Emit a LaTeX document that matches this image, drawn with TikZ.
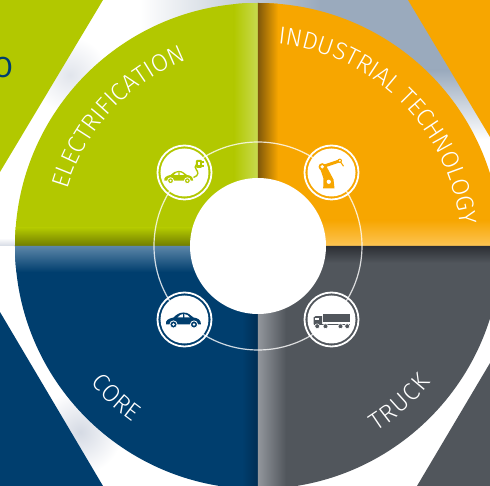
\documentclass[tikz,border=0pt]{standalone}
\usepackage{fontspec}
\usepackage{tikz}
\usetikzlibrary{decorations.text}
\newfontfamily\labelfont{Fira Sans Light}
\newfontfamily\logofont{Fira Sans}
\definecolor{leaf}{RGB}{178, 200, 0}
\definecolor{leaflight}{RGB}{200, 218, 80}
\definecolor{leafdark}{RGB}{112, 124, 0}
\definecolor{amber}{RGB}{247, 166, 0}
\definecolor{amberlight}{RGB}{252, 196, 84}
\definecolor{amberdark}{RGB}{128, 88, 10}
\definecolor{navy}{RGB}{0, 62, 110}
\definecolor{navylight}{RGB}{92, 134, 168}
\definecolor{navydark}{RGB}{0, 46, 84}
\definecolor{slate}{RGB}{81, 86, 92}
\definecolor{slatelight}{RGB}{146, 150, 156}
\definecolor{slatedark}{RGB}{44, 47, 52}
\definecolor{mist}{RGB}{154, 170, 189}
\definecolor{haze}{RGB}{213, 218, 228}

\tikzset{
  hubdisc/.style={circle, fill=white, inner sep=0, minimum size=136pt},
  iconring/.style={circle, draw=white, line width=1.8, inner sep=0, minimum size=54pt},
  icondisc/.style={circle, fill=white, inner sep=0, minimum size=48pt},
  arclabel/.style={decorate, decoration={text along path, text align={fit to path},
    text={|\labelfont\fontsize{24.5}{24.5}\selectfont\color{white}|#1}}}
}

\newcommand{\carshape}[1]{
  \fill[#1] (-18.5,-5) .. controls (-19.5,-1) and (-16,1) .. (-11,2) .. controls (-8,5) and (-5,7) .. (-1,7)
    .. controls (4,7) and (6,4) .. (9,2) .. controls (13,1.5) and (16.5,0) .. (16.5,-5) -- cycle;
  \fill[white] (-7,2) .. controls (-5,4.5) and (-3,5.3) .. (-1.5,5.4) -- (-1.5,2) -- cycle;
  \fill[white] (0,2) -- (0,5.4) .. controls (2,5.2) and (4,4) .. (5.5,2) -- cycle;
  \foreach \wx in {-11, 9.5} {
    \filldraw[fill=#1, draw=white, line width=0.8] (\wx,-5) circle (3.6);
    \fill[white] (\wx,-5) circle (1.3);
  }
}

\begin{document}
\begin{tikzpicture}[x=1pt, y=1pt]

\pgfmathsetmacro{\rbig}{243}
\pgfmathsetmacro{\rring}{104}
\pgfmathsetmacro{\ix}{73.5}
\pgfmathsetmacro{\iy}{73.5}

\useasboundingbox (-258,-240) rectangle (232,246);
\clip (-258,-240) rectangle (232,246);

\fill[white] (-258,-240) rectangle (232,246);

\shade[left color=white, right color=mist] (-118,206) rectangle (62,246);
\fill[mist] (62,176) rectangle (232,246);
\shade[top color=mist, bottom color=white] (62,106) rectangle (232,176);
\shade[inner color=haze!70, outer color=white] (-188,171) circle (38);
\shade[inner color=haze, outer color=white] (-178,-186) circle (42);
\shade[top color=white, bottom color=haze] (-258,0) rectangle (-240,8);

\fill[leaf] (-155,246) -- (-258,74) -- (-258,246) -- cycle;
\fill[amber] (150,246) -- (232,109) -- (232,246) -- cycle;
\fill[navy] (-258,-66) -- (-155,-240) -- (-258,-240) -- cycle;
\fill[slate] (232,-117) -- (159,-240) -- (232,-240) -- cycle;

\node[text=navy, font=\logofont\fontsize{29}{29}\selectfont] (logoletter) at (-255,178) {O};

\begin{scope}
\clip (0,0) -- (180:\rbig) arc[start angle=180, end angle=90, radius=\rbig] -- cycle;
\fill[leaf] (-\rbig,0) rectangle (0,\rbig);
\shade[left color=leaf, right color=leaflight] (-24,30) rectangle (0,\rbig);
\shade[top color=leaf, bottom color=leafdark] (-\rbig,0) rectangle (-24,18);
\end{scope}

\begin{scope}
\clip (0,0) -- (90:\rbig) arc[start angle=90, end angle=0, radius=\rbig] -- cycle;
\fill[amber] (0,0) rectangle (\rbig,\rbig);
\shade[left color=amberdark, right color=amber] (0,30) rectangle (20,\rbig);
\shade[top color=amber, bottom color=amberlight] (24,0) rectangle (\rbig,26);
\end{scope}

\begin{scope}
\clip (0,0) -- (180:\rbig) arc[start angle=180, end angle=270, radius=\rbig] -- cycle;
\fill[navy] (-\rbig,-\rbig) rectangle (0,0);
\shade[top color=navylight, bottom color=navy] (-\rbig,-26) rectangle (-24,0);
\shade[left color=navy, right color=navydark] (-16,-\rbig) rectangle (0,-30);
\end{scope}

\begin{scope}
\clip (0,0) -- (-90:\rbig) arc[start angle=-90, end angle=0, radius=\rbig] -- cycle;
\fill[slate] (0,-\rbig) rectangle (\rbig,0);
\shade[left color=slatelight, right color=slate] (0,-\rbig) rectangle (28,-30);
\shade[top color=slatedark, bottom color=slate] (24,-17) rectangle (\rbig,0);
\end{scope}

\draw[white, opacity=0.8, line width=1.2] (0,0) circle (\rring);

\node[hubdisc] (hub) at (0,0) {};

\foreach \nm/\sx/\sy in {elec/-1/1, robot/1/1, core/-1/-1, truck/1/-1} {
  \node[iconring] (\nm ring) at (\sx*\ix, \sy*\iy) {};
  \node[icondisc] (\nm disc) at (\sx*\ix, \sy*\iy) {};
}

\begin{scope}[shift={(elecdisc.center)}, scale=0.82, xshift=-6, yshift=-5]
\carshape{leaf}
\end{scope}
\begin{scope}[shift={(elecdisc.center)}]
\draw[leaf, line width=1.4] (9,-5) .. controls (15,-3) and (13.5,1) .. (12,2.5) .. controls (10.5,4) and (10,7) .. (12,8);
\fill[leaf, rounded corners=1] (11.5,4.5) rectangle (17.5,12.5);
\draw[leaf, line width=1.4] (17.5,6.5) -- (20,6.5) (17.5,10.5) -- (20,10.5);
\fill[white] (13.2,7) rectangle (15.4,10);
\end{scope}

\begin{scope}[shift={(coredisc.center)}]
\carshape{navy}
\end{scope}

\begin{scope}[shift={(robotdisc.center)}]
\fill[amber] (-8.3,-16) -- (3,-16) -- (2,-7) -- (-5,6) -- (-12.5,7) -- (-8,-6) -- cycle;
\draw[amber, line width=3] (-9.3,5.7) -- (8.3,11.7);
\draw[amber, line width=1.1] (8.3,11.7) -- (12,6.3);
\fill[amber] (-9.3,5.7) circle (3.6) (-2.7,-9.3) circle (3.8) (8.3,11.7) circle (2.2);
\fill[white] (-9.3,5.7) circle (1.9) (-2.7,-9.3) circle (2.1) (8.3,11.7) circle (1);
\end{scope}

\begin{scope}[shift={(truckdisc.center)}]
\fill[slate] (-8.3,-2.7) rectangle (18,5);
\fill[slate] (-18,-5) -- (-18,2) -- (-16,3.3) -- (-9.3,3.3) -- (-9.3,-5) -- cycle;
\fill[white] (-16.5,-1) -- (-16.5,1.6) -- (-12.5,1.6) -- (-12.5,-1) -- cycle;
\fill[slate] (-18,-5.5) rectangle (18,-4.5);
\foreach \wx in {-14.3, -6, 9, 15.7} {
  \filldraw[fill=slate, draw=white, line width=0.5] (\wx,-6.7) circle (2.4);
}
\end{scope}

\path[arclabel=ELECTRIFICATION] (163.6:199) arc[start angle=163.6, end angle=112, radius=199];
\path[arclabel=INDUSTRIAL TECHNOLOGY] (84.4:203) arc[start angle=84.4, end angle=5.9, radius=203];
\path[arclabel=CORE] (219.3:216) arc[start angle=219.3, end angle=234.6, radius=216];
\path[arclabel=TRUCK] (-57.5:220) arc[start angle=-57.5, end angle=-38.3, radius=220];

\end{tikzpicture}
\end{document}
